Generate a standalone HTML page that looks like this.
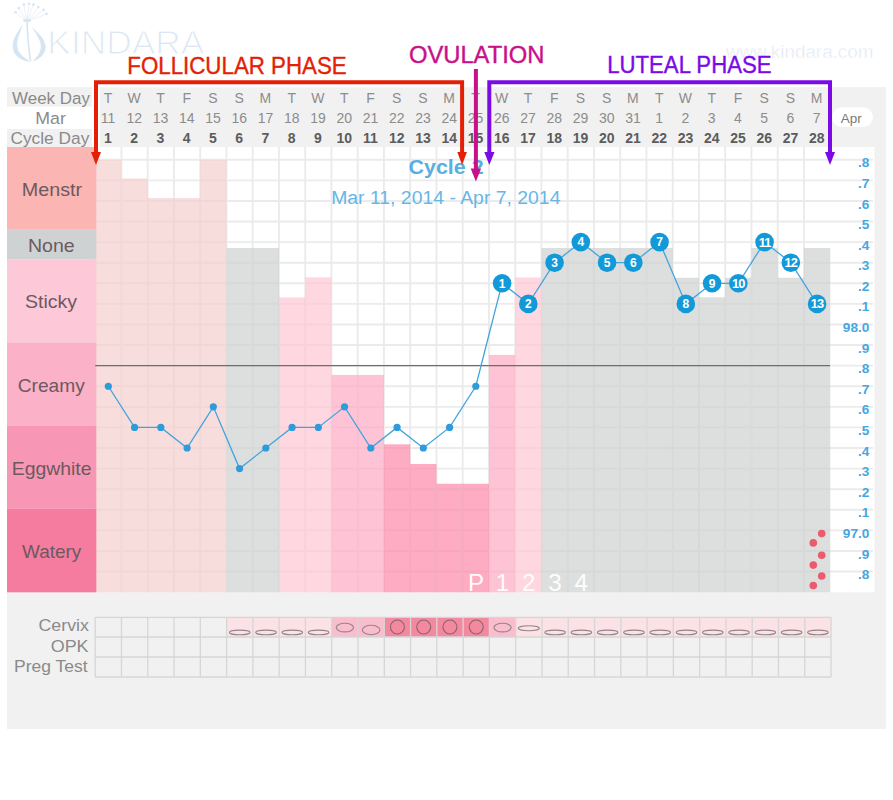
<!DOCTYPE html><html><head><meta charset="utf-8"><style>html,body{margin:0;padding:0;background:#fff;width:893px;height:800px;overflow:hidden}svg{display:block}text{font-family:"Liberation Sans",sans-serif}</style></head><body>
<svg width="893" height="800" viewBox="0 0 893 800">
<rect x="7" y="87.2" width="879" height="641.8" fill="#f1f1f1"/>
<rect x="7" y="106.7" width="85" height="22.2" fill="#ffffff"/>
<rect x="832" y="107.3" width="41" height="19.7" rx="9.8" fill="#ffffff"/>
<text x="840.80" y="123.4" font-size="13.62" font-weight="normal" fill="#7a7a7a" textLength="20.99" lengthAdjust="spacingAndGlyphs" >Apr</text>
<text x="12.05" y="103.6" font-size="15.94" font-weight="normal" fill="#8a8a8a" textLength="77.90" lengthAdjust="spacingAndGlyphs" >Week Day</text>
<text x="35.39" y="123.8" font-size="15.94" font-weight="normal" fill="#8a8a8a" textLength="30.50" lengthAdjust="spacingAndGlyphs" >Mar</text>
<text x="10.46" y="143.5" font-size="15.94" font-weight="normal" fill="#8a8a8a" textLength="78.83" lengthAdjust="spacingAndGlyphs" >Cycle Day</text>
<rect x="98" y="84" width="1.6" height="63" fill="#fff"/>
<rect x="92" y="87" width="3" height="60" fill="#fff"/>
<text x="107.92" y="103.2" font-size="14" fill="#8c8c8c" text-anchor="middle">T</text>
<text x="107.92" y="123.3" font-size="14" fill="#8c8c8c" text-anchor="middle">11</text>
<text x="107.92" y="142.7" font-size="14" font-weight="bold" fill="#5c5c5c" text-anchor="middle">1</text>
<text x="134.17" y="103.2" font-size="14" fill="#8c8c8c" text-anchor="middle">W</text>
<text x="134.17" y="123.3" font-size="14" fill="#8c8c8c" text-anchor="middle">12</text>
<text x="134.17" y="142.7" font-size="14" font-weight="bold" fill="#5c5c5c" text-anchor="middle">2</text>
<text x="160.42" y="103.2" font-size="14" fill="#8c8c8c" text-anchor="middle">T</text>
<text x="160.42" y="123.3" font-size="14" fill="#8c8c8c" text-anchor="middle">13</text>
<text x="160.42" y="142.7" font-size="14" font-weight="bold" fill="#5c5c5c" text-anchor="middle">3</text>
<text x="186.67" y="103.2" font-size="14" fill="#8c8c8c" text-anchor="middle">F</text>
<text x="186.67" y="123.3" font-size="14" fill="#8c8c8c" text-anchor="middle">14</text>
<text x="186.67" y="142.7" font-size="14" font-weight="bold" fill="#5c5c5c" text-anchor="middle">4</text>
<text x="212.92" y="103.2" font-size="14" fill="#8c8c8c" text-anchor="middle">S</text>
<text x="212.92" y="123.3" font-size="14" fill="#8c8c8c" text-anchor="middle">15</text>
<text x="212.92" y="142.7" font-size="14" font-weight="bold" fill="#5c5c5c" text-anchor="middle">5</text>
<text x="239.17" y="103.2" font-size="14" fill="#8c8c8c" text-anchor="middle">S</text>
<text x="239.17" y="123.3" font-size="14" fill="#8c8c8c" text-anchor="middle">16</text>
<text x="239.17" y="142.7" font-size="14" font-weight="bold" fill="#5c5c5c" text-anchor="middle">6</text>
<text x="265.43" y="103.2" font-size="14" fill="#8c8c8c" text-anchor="middle">M</text>
<text x="265.43" y="123.3" font-size="14" fill="#8c8c8c" text-anchor="middle">17</text>
<text x="265.43" y="142.7" font-size="14" font-weight="bold" fill="#5c5c5c" text-anchor="middle">7</text>
<text x="291.68" y="103.2" font-size="14" fill="#8c8c8c" text-anchor="middle">T</text>
<text x="291.68" y="123.3" font-size="14" fill="#8c8c8c" text-anchor="middle">18</text>
<text x="291.68" y="142.7" font-size="14" font-weight="bold" fill="#5c5c5c" text-anchor="middle">8</text>
<text x="317.93" y="103.2" font-size="14" fill="#8c8c8c" text-anchor="middle">W</text>
<text x="317.93" y="123.3" font-size="14" fill="#8c8c8c" text-anchor="middle">19</text>
<text x="317.93" y="142.7" font-size="14" font-weight="bold" fill="#5c5c5c" text-anchor="middle">9</text>
<text x="344.18" y="103.2" font-size="14" fill="#8c8c8c" text-anchor="middle">T</text>
<text x="344.18" y="123.3" font-size="14" fill="#8c8c8c" text-anchor="middle">20</text>
<text x="344.18" y="142.7" font-size="14" font-weight="bold" fill="#5c5c5c" text-anchor="middle">10</text>
<text x="370.43" y="103.2" font-size="14" fill="#8c8c8c" text-anchor="middle">F</text>
<text x="370.43" y="123.3" font-size="14" fill="#8c8c8c" text-anchor="middle">21</text>
<text x="370.43" y="142.7" font-size="14" font-weight="bold" fill="#5c5c5c" text-anchor="middle">11</text>
<text x="396.68" y="103.2" font-size="14" fill="#8c8c8c" text-anchor="middle">S</text>
<text x="396.68" y="123.3" font-size="14" fill="#8c8c8c" text-anchor="middle">22</text>
<text x="396.68" y="142.7" font-size="14" font-weight="bold" fill="#5c5c5c" text-anchor="middle">12</text>
<text x="422.93" y="103.2" font-size="14" fill="#8c8c8c" text-anchor="middle">S</text>
<text x="422.93" y="123.3" font-size="14" fill="#8c8c8c" text-anchor="middle">23</text>
<text x="422.93" y="142.7" font-size="14" font-weight="bold" fill="#5c5c5c" text-anchor="middle">13</text>
<text x="449.18" y="103.2" font-size="14" fill="#8c8c8c" text-anchor="middle">M</text>
<text x="449.18" y="123.3" font-size="14" fill="#8c8c8c" text-anchor="middle">24</text>
<text x="449.18" y="142.7" font-size="14" font-weight="bold" fill="#5c5c5c" text-anchor="middle">14</text>
<text x="475.43" y="103.2" font-size="14" fill="#8c8c8c" text-anchor="middle">T</text>
<text x="475.43" y="123.3" font-size="14" fill="#8c8c8c" text-anchor="middle">25</text>
<text x="475.43" y="142.7" font-size="14" font-weight="bold" fill="#5c5c5c" text-anchor="middle">15</text>
<text x="501.68" y="103.2" font-size="14" fill="#8c8c8c" text-anchor="middle">W</text>
<text x="501.68" y="123.3" font-size="14" fill="#8c8c8c" text-anchor="middle">26</text>
<text x="501.68" y="142.7" font-size="14" font-weight="bold" fill="#5c5c5c" text-anchor="middle">16</text>
<text x="527.93" y="103.2" font-size="14" fill="#8c8c8c" text-anchor="middle">T</text>
<text x="527.93" y="123.3" font-size="14" fill="#8c8c8c" text-anchor="middle">27</text>
<text x="527.93" y="142.7" font-size="14" font-weight="bold" fill="#5c5c5c" text-anchor="middle">17</text>
<text x="554.18" y="103.2" font-size="14" fill="#8c8c8c" text-anchor="middle">F</text>
<text x="554.18" y="123.3" font-size="14" fill="#8c8c8c" text-anchor="middle">28</text>
<text x="554.18" y="142.7" font-size="14" font-weight="bold" fill="#5c5c5c" text-anchor="middle">18</text>
<text x="580.43" y="103.2" font-size="14" fill="#8c8c8c" text-anchor="middle">S</text>
<text x="580.43" y="123.3" font-size="14" fill="#8c8c8c" text-anchor="middle">29</text>
<text x="580.43" y="142.7" font-size="14" font-weight="bold" fill="#5c5c5c" text-anchor="middle">19</text>
<text x="606.68" y="103.2" font-size="14" fill="#8c8c8c" text-anchor="middle">S</text>
<text x="606.68" y="123.3" font-size="14" fill="#8c8c8c" text-anchor="middle">30</text>
<text x="606.68" y="142.7" font-size="14" font-weight="bold" fill="#5c5c5c" text-anchor="middle">20</text>
<text x="632.93" y="103.2" font-size="14" fill="#8c8c8c" text-anchor="middle">M</text>
<text x="632.93" y="123.3" font-size="14" fill="#8c8c8c" text-anchor="middle">31</text>
<text x="632.93" y="142.7" font-size="14" font-weight="bold" fill="#5c5c5c" text-anchor="middle">21</text>
<text x="659.18" y="103.2" font-size="14" fill="#8c8c8c" text-anchor="middle">T</text>
<text x="659.18" y="123.3" font-size="14" fill="#8c8c8c" text-anchor="middle">1</text>
<text x="659.18" y="142.7" font-size="14" font-weight="bold" fill="#5c5c5c" text-anchor="middle">22</text>
<text x="685.43" y="103.2" font-size="14" fill="#8c8c8c" text-anchor="middle">W</text>
<text x="685.43" y="123.3" font-size="14" fill="#8c8c8c" text-anchor="middle">2</text>
<text x="685.43" y="142.7" font-size="14" font-weight="bold" fill="#5c5c5c" text-anchor="middle">23</text>
<text x="711.68" y="103.2" font-size="14" fill="#8c8c8c" text-anchor="middle">T</text>
<text x="711.68" y="123.3" font-size="14" fill="#8c8c8c" text-anchor="middle">3</text>
<text x="711.68" y="142.7" font-size="14" font-weight="bold" fill="#5c5c5c" text-anchor="middle">24</text>
<text x="737.93" y="103.2" font-size="14" fill="#8c8c8c" text-anchor="middle">F</text>
<text x="737.93" y="123.3" font-size="14" fill="#8c8c8c" text-anchor="middle">4</text>
<text x="737.93" y="142.7" font-size="14" font-weight="bold" fill="#5c5c5c" text-anchor="middle">25</text>
<text x="764.18" y="103.2" font-size="14" fill="#8c8c8c" text-anchor="middle">S</text>
<text x="764.18" y="123.3" font-size="14" fill="#8c8c8c" text-anchor="middle">5</text>
<text x="764.18" y="142.7" font-size="14" font-weight="bold" fill="#5c5c5c" text-anchor="middle">26</text>
<text x="790.43" y="103.2" font-size="14" fill="#8c8c8c" text-anchor="middle">S</text>
<text x="790.43" y="123.3" font-size="14" fill="#8c8c8c" text-anchor="middle">6</text>
<text x="790.43" y="142.7" font-size="14" font-weight="bold" fill="#5c5c5c" text-anchor="middle">27</text>
<text x="816.68" y="103.2" font-size="14" fill="#8c8c8c" text-anchor="middle">M</text>
<text x="816.68" y="123.3" font-size="14" fill="#8c8c8c" text-anchor="middle">7</text>
<text x="816.68" y="142.7" font-size="14" font-weight="bold" fill="#5c5c5c" text-anchor="middle">28</text>
<rect x="95.2" y="147.0" width="735.00" height="445.30" fill="#ffffff"/>
<rect x="830" y="147.0" width="44.5" height="445.30" fill="#ffffff"/>
<g opacity="0.075">
<line x1="95.2" y1="159.75" x2="873" y2="159.75" stroke="#000" stroke-width="1.9"/>
<line x1="95.2" y1="180.34" x2="873" y2="180.34" stroke="#000" stroke-width="1.9"/>
<line x1="95.2" y1="200.93" x2="873" y2="200.93" stroke="#000" stroke-width="1.9"/>
<line x1="95.2" y1="221.52" x2="873" y2="221.52" stroke="#000" stroke-width="1.9"/>
<line x1="95.2" y1="242.11" x2="873" y2="242.11" stroke="#000" stroke-width="1.9"/>
<line x1="95.2" y1="262.70" x2="873" y2="262.70" stroke="#000" stroke-width="1.9"/>
<line x1="95.2" y1="283.29" x2="873" y2="283.29" stroke="#000" stroke-width="1.9"/>
<line x1="95.2" y1="303.88" x2="873" y2="303.88" stroke="#000" stroke-width="1.9"/>
<line x1="95.2" y1="324.47" x2="873" y2="324.47" stroke="#000" stroke-width="1.9"/>
<line x1="95.2" y1="345.06" x2="873" y2="345.06" stroke="#000" stroke-width="1.9"/>
<line x1="95.2" y1="365.65" x2="873" y2="365.65" stroke="#000" stroke-width="1.9"/>
<line x1="95.2" y1="386.24" x2="873" y2="386.24" stroke="#000" stroke-width="1.9"/>
<line x1="95.2" y1="406.83" x2="873" y2="406.83" stroke="#000" stroke-width="1.9"/>
<line x1="95.2" y1="427.42" x2="873" y2="427.42" stroke="#000" stroke-width="1.9"/>
<line x1="95.2" y1="448.01" x2="873" y2="448.01" stroke="#000" stroke-width="1.9"/>
<line x1="95.2" y1="468.60" x2="873" y2="468.60" stroke="#000" stroke-width="1.9"/>
<line x1="95.2" y1="489.19" x2="873" y2="489.19" stroke="#000" stroke-width="1.9"/>
<line x1="95.2" y1="509.78" x2="873" y2="509.78" stroke="#000" stroke-width="1.9"/>
<line x1="95.2" y1="530.37" x2="873" y2="530.37" stroke="#000" stroke-width="1.9"/>
<line x1="95.2" y1="550.96" x2="873" y2="550.96" stroke="#000" stroke-width="1.9"/>
<line x1="95.2" y1="571.55" x2="873" y2="571.55" stroke="#000" stroke-width="1.9"/>
<line x1="95.20" y1="147.0" x2="95.20" y2="592.3" stroke="#000" stroke-width="1.9"/>
<line x1="121.45" y1="147.0" x2="121.45" y2="592.3" stroke="#000" stroke-width="1.9"/>
<line x1="147.70" y1="147.0" x2="147.70" y2="592.3" stroke="#000" stroke-width="1.9"/>
<line x1="173.95" y1="147.0" x2="173.95" y2="592.3" stroke="#000" stroke-width="1.9"/>
<line x1="200.20" y1="147.0" x2="200.20" y2="592.3" stroke="#000" stroke-width="1.9"/>
<line x1="226.45" y1="147.0" x2="226.45" y2="592.3" stroke="#000" stroke-width="1.9"/>
<line x1="252.70" y1="147.0" x2="252.70" y2="592.3" stroke="#000" stroke-width="1.9"/>
<line x1="278.95" y1="147.0" x2="278.95" y2="592.3" stroke="#000" stroke-width="1.9"/>
<line x1="305.20" y1="147.0" x2="305.20" y2="592.3" stroke="#000" stroke-width="1.9"/>
<line x1="331.45" y1="147.0" x2="331.45" y2="592.3" stroke="#000" stroke-width="1.9"/>
<line x1="357.70" y1="147.0" x2="357.70" y2="592.3" stroke="#000" stroke-width="1.9"/>
<line x1="383.95" y1="147.0" x2="383.95" y2="592.3" stroke="#000" stroke-width="1.9"/>
<line x1="410.20" y1="147.0" x2="410.20" y2="592.3" stroke="#000" stroke-width="1.9"/>
<line x1="436.45" y1="147.0" x2="436.45" y2="592.3" stroke="#000" stroke-width="1.9"/>
<line x1="462.70" y1="147.0" x2="462.70" y2="592.3" stroke="#000" stroke-width="1.9"/>
<line x1="488.95" y1="147.0" x2="488.95" y2="592.3" stroke="#000" stroke-width="1.9"/>
<line x1="515.20" y1="147.0" x2="515.20" y2="592.3" stroke="#000" stroke-width="1.9"/>
<line x1="541.45" y1="147.0" x2="541.45" y2="592.3" stroke="#000" stroke-width="1.9"/>
<line x1="567.70" y1="147.0" x2="567.70" y2="592.3" stroke="#000" stroke-width="1.9"/>
<line x1="593.95" y1="147.0" x2="593.95" y2="592.3" stroke="#000" stroke-width="1.9"/>
<line x1="620.20" y1="147.0" x2="620.20" y2="592.3" stroke="#000" stroke-width="1.9"/>
<line x1="646.45" y1="147.0" x2="646.45" y2="592.3" stroke="#000" stroke-width="1.9"/>
<line x1="672.70" y1="147.0" x2="672.70" y2="592.3" stroke="#000" stroke-width="1.9"/>
<line x1="698.95" y1="147.0" x2="698.95" y2="592.3" stroke="#000" stroke-width="1.9"/>
<line x1="725.20" y1="147.0" x2="725.20" y2="592.3" stroke="#000" stroke-width="1.9"/>
<line x1="751.45" y1="147.0" x2="751.45" y2="592.3" stroke="#000" stroke-width="1.9"/>
<line x1="777.70" y1="147.0" x2="777.70" y2="592.3" stroke="#000" stroke-width="1.9"/>
<line x1="803.95" y1="147.0" x2="803.95" y2="592.3" stroke="#000" stroke-width="1.9"/>
</g>
<rect x="95.20" y="159.75" width="26.30" height="432.55" fill="#f5cdcd" fill-opacity="0.68"/>
<rect x="121.45" y="178.50" width="26.30" height="413.80" fill="#f5cdcd" fill-opacity="0.68"/>
<rect x="147.70" y="198.10" width="26.30" height="394.20" fill="#f5cdcd" fill-opacity="0.68"/>
<rect x="173.95" y="198.10" width="26.30" height="394.20" fill="#f5cdcd" fill-opacity="0.68"/>
<rect x="200.20" y="159.75" width="26.30" height="432.55" fill="#f5cdcd" fill-opacity="0.68"/>
<rect x="226.45" y="248.00" width="26.30" height="344.30" fill="#ccd0ce" fill-opacity="0.68"/>
<rect x="252.70" y="248.00" width="26.30" height="344.30" fill="#ccd0ce" fill-opacity="0.68"/>
<rect x="278.95" y="297.50" width="26.30" height="294.80" fill="#fec4d3" fill-opacity="0.68"/>
<rect x="305.20" y="277.30" width="26.30" height="315.00" fill="#fec4d3" fill-opacity="0.68"/>
<rect x="331.45" y="374.90" width="26.30" height="217.40" fill="#fea8c1" fill-opacity="0.68"/>
<rect x="357.70" y="374.90" width="26.30" height="217.40" fill="#fea8c1" fill-opacity="0.68"/>
<rect x="383.95" y="444.30" width="26.30" height="148.00" fill="#fe85a7" fill-opacity="0.68"/>
<rect x="410.20" y="464.00" width="26.30" height="128.30" fill="#fe85a7" fill-opacity="0.68"/>
<rect x="436.45" y="483.75" width="26.30" height="108.55" fill="#fe85a7" fill-opacity="0.68"/>
<rect x="462.70" y="483.75" width="26.30" height="108.55" fill="#fe85a7" fill-opacity="0.68"/>
<rect x="488.95" y="354.90" width="26.30" height="237.40" fill="#fea8c1" fill-opacity="0.68"/>
<rect x="515.20" y="277.50" width="26.30" height="314.80" fill="#fec4d3" fill-opacity="0.68"/>
<rect x="541.45" y="248.00" width="26.30" height="344.30" fill="#ccd0ce" fill-opacity="0.68"/>
<rect x="567.70" y="248.00" width="26.30" height="344.30" fill="#ccd0ce" fill-opacity="0.68"/>
<rect x="593.95" y="248.00" width="26.30" height="344.30" fill="#ccd0ce" fill-opacity="0.68"/>
<rect x="620.20" y="248.00" width="26.30" height="344.30" fill="#ccd0ce" fill-opacity="0.68"/>
<rect x="646.45" y="248.00" width="26.30" height="344.30" fill="#ccd0ce" fill-opacity="0.68"/>
<rect x="672.70" y="277.80" width="26.30" height="314.50" fill="#ccd0ce" fill-opacity="0.68"/>
<rect x="698.95" y="297.30" width="26.30" height="295.00" fill="#ccd0ce" fill-opacity="0.68"/>
<rect x="725.20" y="277.80" width="26.30" height="314.50" fill="#ccd0ce" fill-opacity="0.68"/>
<rect x="751.45" y="248.00" width="26.30" height="344.30" fill="#ccd0ce" fill-opacity="0.68"/>
<rect x="777.70" y="277.80" width="26.30" height="314.50" fill="#ccd0ce" fill-opacity="0.68"/>
<rect x="803.95" y="248.00" width="26.30" height="344.30" fill="#ccd0ce" fill-opacity="0.68"/>
<rect x="7" y="147" width="89.3" height="82.00" fill="#fbb5b3"/>
<text x="21.87" y="195.9" font-size="19.13" font-weight="normal" fill="#6b5a5f" textLength="60.20" lengthAdjust="spacingAndGlyphs" >Menstr</text>
<rect x="7" y="229" width="89.3" height="30.50" fill="#cfd2d3"/>
<text x="27.98" y="251.6" font-size="19.13" font-weight="normal" fill="#6b5a5f" textLength="46.77" lengthAdjust="spacingAndGlyphs" >None</text>
<rect x="7" y="259.5" width="89.3" height="83.00" fill="#fdc8d7"/>
<text x="24.98" y="307.9" font-size="19.13" font-weight="normal" fill="#6b5a5f" textLength="52.04" lengthAdjust="spacingAndGlyphs" >Sticky</text>
<rect x="7" y="342.5" width="89.3" height="83.25" fill="#fbb1c8"/>
<text x="17.75" y="391.6" font-size="19.13" font-weight="normal" fill="#6b5a5f" textLength="67.00" lengthAdjust="spacingAndGlyphs" >Creamy</text>
<rect x="7" y="425.75" width="89.3" height="83.00" fill="#f897b5"/>
<text x="11.69" y="475.0" font-size="19.13" font-weight="normal" fill="#6b5a5f" textLength="79.81" lengthAdjust="spacingAndGlyphs" >Eggwhite</text>
<rect x="7" y="508.75" width="89.3" height="83.55" fill="#f67c9f"/>
<text x="22.00" y="557.5" font-size="19.13" font-weight="normal" fill="#6b5a5f" textLength="59.36" lengthAdjust="spacingAndGlyphs" >Watery</text>
<text x="869.3" y="167.35" font-size="13.6" font-weight="bold" fill="#48a6de" text-anchor="end">.8</text>
<text x="869.3" y="187.94" font-size="13.6" font-weight="bold" fill="#48a6de" text-anchor="end">.7</text>
<text x="869.3" y="208.53" font-size="13.6" font-weight="bold" fill="#48a6de" text-anchor="end">.6</text>
<text x="869.3" y="229.12" font-size="13.6" font-weight="bold" fill="#48a6de" text-anchor="end">.5</text>
<text x="869.3" y="249.71" font-size="13.6" font-weight="bold" fill="#48a6de" text-anchor="end">.4</text>
<text x="869.3" y="270.30" font-size="13.6" font-weight="bold" fill="#48a6de" text-anchor="end">.3</text>
<text x="869.3" y="290.89" font-size="13.6" font-weight="bold" fill="#48a6de" text-anchor="end">.2</text>
<text x="869.3" y="311.48" font-size="13.6" font-weight="bold" fill="#48a6de" text-anchor="end">.1</text>
<text x="869.3" y="332.07" font-size="13.6" font-weight="bold" fill="#48a6de" text-anchor="end">98.0</text>
<text x="869.3" y="352.66" font-size="13.6" font-weight="bold" fill="#48a6de" text-anchor="end">.9</text>
<text x="869.3" y="373.25" font-size="13.6" font-weight="bold" fill="#48a6de" text-anchor="end">.8</text>
<text x="869.3" y="393.84" font-size="13.6" font-weight="bold" fill="#48a6de" text-anchor="end">.7</text>
<text x="869.3" y="414.43" font-size="13.6" font-weight="bold" fill="#48a6de" text-anchor="end">.6</text>
<text x="869.3" y="435.02" font-size="13.6" font-weight="bold" fill="#48a6de" text-anchor="end">.5</text>
<text x="869.3" y="455.61" font-size="13.6" font-weight="bold" fill="#48a6de" text-anchor="end">.4</text>
<text x="869.3" y="476.20" font-size="13.6" font-weight="bold" fill="#48a6de" text-anchor="end">.3</text>
<text x="869.3" y="496.79" font-size="13.6" font-weight="bold" fill="#48a6de" text-anchor="end">.2</text>
<text x="869.3" y="517.38" font-size="13.6" font-weight="bold" fill="#48a6de" text-anchor="end">.1</text>
<text x="869.3" y="537.97" font-size="13.6" font-weight="bold" fill="#48a6de" text-anchor="end">97.0</text>
<text x="869.3" y="558.56" font-size="13.6" font-weight="bold" fill="#48a6de" text-anchor="end">.9</text>
<text x="869.3" y="579.15" font-size="13.6" font-weight="bold" fill="#48a6de" text-anchor="end">.8</text>
<line x1="95.2" y1="365.65" x2="830" y2="365.65" stroke="#6e6e6e" stroke-width="1.2"/>
<polyline points="108.33,386.24 134.57,427.42 160.82,427.42 187.07,448.01 213.32,406.83 239.57,468.60 265.82,448.01 292.07,427.42 318.32,427.42 344.57,406.83 370.82,448.01 397.07,427.42 423.32,448.01 449.57,427.42 475.82,386.24 502.07,283.29 528.33,303.88 554.58,262.70 580.83,242.11 607.08,262.70 633.33,262.70 659.58,242.11 685.83,303.88 712.08,283.29 738.33,283.29 764.58,242.11 790.83,262.70 817.08,303.88" fill="none" stroke="#42a4de" stroke-width="1.3"/>
<circle cx="108.33" cy="386.24" r="3.6" fill="#2f9bdb"/>
<circle cx="134.57" cy="427.42" r="3.6" fill="#2f9bdb"/>
<circle cx="160.82" cy="427.42" r="3.6" fill="#2f9bdb"/>
<circle cx="187.07" cy="448.01" r="3.6" fill="#2f9bdb"/>
<circle cx="213.32" cy="406.83" r="3.6" fill="#2f9bdb"/>
<circle cx="239.57" cy="468.60" r="3.6" fill="#2f9bdb"/>
<circle cx="265.82" cy="448.01" r="3.6" fill="#2f9bdb"/>
<circle cx="292.07" cy="427.42" r="3.6" fill="#2f9bdb"/>
<circle cx="318.32" cy="427.42" r="3.6" fill="#2f9bdb"/>
<circle cx="344.57" cy="406.83" r="3.6" fill="#2f9bdb"/>
<circle cx="370.82" cy="448.01" r="3.6" fill="#2f9bdb"/>
<circle cx="397.07" cy="427.42" r="3.6" fill="#2f9bdb"/>
<circle cx="423.32" cy="448.01" r="3.6" fill="#2f9bdb"/>
<circle cx="449.57" cy="427.42" r="3.6" fill="#2f9bdb"/>
<circle cx="475.82" cy="386.24" r="3.6" fill="#2f9bdb"/>
<circle cx="502.07" cy="283.29" r="9.3" fill="#129ad8"/>
<text x="502.07" y="287.59" font-size="12" font-weight="bold" fill="#ffffff" text-anchor="middle" letter-spacing="0">1</text>
<circle cx="528.33" cy="303.88" r="9.3" fill="#129ad8"/>
<text x="528.33" y="308.18" font-size="12" font-weight="bold" fill="#ffffff" text-anchor="middle" letter-spacing="0">2</text>
<circle cx="554.58" cy="262.70" r="9.3" fill="#129ad8"/>
<text x="554.58" y="267.00" font-size="12" font-weight="bold" fill="#ffffff" text-anchor="middle" letter-spacing="0">3</text>
<circle cx="580.83" cy="242.11" r="9.3" fill="#129ad8"/>
<text x="580.83" y="246.41" font-size="12" font-weight="bold" fill="#ffffff" text-anchor="middle" letter-spacing="0">4</text>
<circle cx="607.08" cy="262.70" r="9.3" fill="#129ad8"/>
<text x="607.08" y="267.00" font-size="12" font-weight="bold" fill="#ffffff" text-anchor="middle" letter-spacing="0">5</text>
<circle cx="633.33" cy="262.70" r="9.3" fill="#129ad8"/>
<text x="633.33" y="267.00" font-size="12" font-weight="bold" fill="#ffffff" text-anchor="middle" letter-spacing="0">6</text>
<circle cx="659.58" cy="242.11" r="9.3" fill="#129ad8"/>
<text x="659.58" y="246.41" font-size="12" font-weight="bold" fill="#ffffff" text-anchor="middle" letter-spacing="0">7</text>
<circle cx="685.83" cy="303.88" r="9.3" fill="#129ad8"/>
<text x="685.83" y="308.18" font-size="12" font-weight="bold" fill="#ffffff" text-anchor="middle" letter-spacing="0">8</text>
<circle cx="712.08" cy="283.29" r="9.3" fill="#129ad8"/>
<text x="712.08" y="287.59" font-size="12" font-weight="bold" fill="#ffffff" text-anchor="middle" letter-spacing="0">9</text>
<circle cx="738.33" cy="283.29" r="9.3" fill="#129ad8"/>
<text x="738.33" y="287.89" font-size="12.8" font-weight="bold" fill="#ffffff" text-anchor="middle" letter-spacing="-0.9">10</text>
<circle cx="764.58" cy="242.11" r="9.3" fill="#129ad8"/>
<text x="764.58" y="246.71" font-size="12.8" font-weight="bold" fill="#ffffff" text-anchor="middle" letter-spacing="-0.9">11</text>
<circle cx="790.83" cy="262.70" r="9.3" fill="#129ad8"/>
<text x="790.83" y="267.30" font-size="12.8" font-weight="bold" fill="#ffffff" text-anchor="middle" letter-spacing="-0.9">12</text>
<circle cx="817.08" cy="303.88" r="9.3" fill="#129ad8"/>
<text x="817.08" y="308.48" font-size="12.8" font-weight="bold" fill="#ffffff" text-anchor="middle" letter-spacing="-0.9">13</text>
<text x="476.12" y="591" font-size="24.2" fill="#ffffff" fill-opacity="0.95" text-anchor="middle">P</text>
<text x="502.38" y="591" font-size="24.2" fill="#ffffff" fill-opacity="0.95" text-anchor="middle">1</text>
<text x="528.62" y="591" font-size="24.2" fill="#ffffff" fill-opacity="0.95" text-anchor="middle">2</text>
<text x="554.88" y="591" font-size="24.2" fill="#ffffff" fill-opacity="0.95" text-anchor="middle">3</text>
<text x="581.12" y="591" font-size="24.2" fill="#ffffff" fill-opacity="0.95" text-anchor="middle">4</text>
<circle cx="821.7" cy="533.6" r="3.8" fill="#ec5a6e"/>
<circle cx="813.3" cy="542.9" r="3.8" fill="#ec5a6e"/>
<circle cx="821.7" cy="555.2" r="3.8" fill="#ec5a6e"/>
<circle cx="813.3" cy="565.1" r="3.8" fill="#ec5a6e"/>
<circle cx="821.7" cy="576" r="3.8" fill="#ec5a6e"/>
<circle cx="813.3" cy="585.5" r="3.8" fill="#ec5a6e"/>
<text x="408.62" y="173.9" font-size="19.86" font-weight="bold" fill="#58afe2" textLength="74.93" lengthAdjust="spacingAndGlyphs" >Cycle 2</text>
<text x="331.18" y="203.9" font-size="18.99" font-weight="normal" fill="#66b6e6" textLength="229.29" lengthAdjust="spacingAndGlyphs" >Mar 11, 2014 - Apr 7, 2014</text>
<text x="38.51" y="631.3" font-size="16.38" font-weight="normal" fill="#8a8a8a" textLength="50.38" lengthAdjust="spacingAndGlyphs" >Cervix</text>
<text x="50.70" y="652.3" font-size="16.38" font-weight="normal" fill="#8a8a8a" textLength="37.91" lengthAdjust="spacingAndGlyphs" >OPK</text>
<text x="14.03" y="671.9" font-size="16.38" font-weight="normal" fill="#8a8a8a" textLength="73.57" lengthAdjust="spacingAndGlyphs" >Preg Test</text>
<rect x="226.60" y="617.3" width="26.28" height="19.7" fill="#fae2e6"/>
<rect x="252.88" y="617.3" width="26.28" height="19.7" fill="#fae2e6"/>
<rect x="279.16" y="617.3" width="26.28" height="19.7" fill="#fae2e6"/>
<rect x="305.44" y="617.3" width="26.28" height="19.7" fill="#fae2e6"/>
<rect x="331.72" y="617.3" width="26.28" height="19.7" fill="#f9bdce"/>
<rect x="358.00" y="617.3" width="26.28" height="19.7" fill="#f9bdce"/>
<rect x="384.28" y="617.3" width="26.28" height="19.7" fill="#f4889f"/>
<rect x="410.56" y="617.3" width="26.28" height="19.7" fill="#f4889f"/>
<rect x="436.84" y="617.3" width="26.28" height="19.7" fill="#f4889f"/>
<rect x="463.12" y="617.3" width="26.28" height="19.7" fill="#f4889f"/>
<rect x="489.40" y="617.3" width="26.28" height="19.7" fill="#f9bdce"/>
<rect x="515.68" y="617.3" width="26.28" height="19.7" fill="#fae2e6"/>
<rect x="541.96" y="617.3" width="26.28" height="19.7" fill="#fae2e6"/>
<rect x="568.24" y="617.3" width="26.28" height="19.7" fill="#fae2e6"/>
<rect x="594.52" y="617.3" width="26.28" height="19.7" fill="#fae2e6"/>
<rect x="620.80" y="617.3" width="26.28" height="19.7" fill="#fae2e6"/>
<rect x="647.08" y="617.3" width="26.28" height="19.7" fill="#fae2e6"/>
<rect x="673.36" y="617.3" width="26.28" height="19.7" fill="#fae2e6"/>
<rect x="699.64" y="617.3" width="26.28" height="19.7" fill="#fae2e6"/>
<rect x="725.92" y="617.3" width="26.28" height="19.7" fill="#fae2e6"/>
<rect x="752.20" y="617.3" width="26.28" height="19.7" fill="#fae2e6"/>
<rect x="778.48" y="617.3" width="26.28" height="19.7" fill="#fae2e6"/>
<rect x="804.76" y="617.3" width="26.28" height="19.7" fill="#fae2e6"/>
<line x1="95.2" y1="617.3" x2="831.04" y2="617.3" stroke="#d6d6d6" stroke-width="1.3"/>
<line x1="95.2" y1="637" x2="831.04" y2="637" stroke="#d6d6d6" stroke-width="1.3"/>
<line x1="95.2" y1="657" x2="831.04" y2="657" stroke="#d6d6d6" stroke-width="1.3"/>
<line x1="95.2" y1="677" x2="831.04" y2="677" stroke="#d6d6d6" stroke-width="1.3"/>
<line x1="95.20" y1="617.3" x2="95.20" y2="677" stroke="#d6d6d6" stroke-width="1.3"/>
<line x1="121.48" y1="617.3" x2="121.48" y2="677" stroke="#d6d6d6" stroke-width="1.3"/>
<line x1="147.76" y1="617.3" x2="147.76" y2="677" stroke="#d6d6d6" stroke-width="1.3"/>
<line x1="174.04" y1="617.3" x2="174.04" y2="677" stroke="#d6d6d6" stroke-width="1.3"/>
<line x1="200.32" y1="617.3" x2="200.32" y2="677" stroke="#d6d6d6" stroke-width="1.3"/>
<line x1="226.60" y1="617.3" x2="226.60" y2="677" stroke="#d6d6d6" stroke-width="1.3"/>
<line x1="252.88" y1="617.3" x2="252.88" y2="677" stroke="#d6d6d6" stroke-width="1.3"/>
<line x1="279.16" y1="617.3" x2="279.16" y2="677" stroke="#d6d6d6" stroke-width="1.3"/>
<line x1="305.44" y1="617.3" x2="305.44" y2="677" stroke="#d6d6d6" stroke-width="1.3"/>
<line x1="331.72" y1="617.3" x2="331.72" y2="677" stroke="#d6d6d6" stroke-width="1.3"/>
<line x1="358.00" y1="617.3" x2="358.00" y2="677" stroke="#d6d6d6" stroke-width="1.3"/>
<line x1="384.28" y1="617.3" x2="384.28" y2="677" stroke="#d6d6d6" stroke-width="1.3"/>
<line x1="410.56" y1="617.3" x2="410.56" y2="677" stroke="#d6d6d6" stroke-width="1.3"/>
<line x1="436.84" y1="617.3" x2="436.84" y2="677" stroke="#d6d6d6" stroke-width="1.3"/>
<line x1="463.12" y1="617.3" x2="463.12" y2="677" stroke="#d6d6d6" stroke-width="1.3"/>
<line x1="489.40" y1="617.3" x2="489.40" y2="677" stroke="#d6d6d6" stroke-width="1.3"/>
<line x1="515.68" y1="617.3" x2="515.68" y2="677" stroke="#d6d6d6" stroke-width="1.3"/>
<line x1="541.96" y1="617.3" x2="541.96" y2="677" stroke="#d6d6d6" stroke-width="1.3"/>
<line x1="568.24" y1="617.3" x2="568.24" y2="677" stroke="#d6d6d6" stroke-width="1.3"/>
<line x1="594.52" y1="617.3" x2="594.52" y2="677" stroke="#d6d6d6" stroke-width="1.3"/>
<line x1="620.80" y1="617.3" x2="620.80" y2="677" stroke="#d6d6d6" stroke-width="1.3"/>
<line x1="647.08" y1="617.3" x2="647.08" y2="677" stroke="#d6d6d6" stroke-width="1.3"/>
<line x1="673.36" y1="617.3" x2="673.36" y2="677" stroke="#d6d6d6" stroke-width="1.3"/>
<line x1="699.64" y1="617.3" x2="699.64" y2="677" stroke="#d6d6d6" stroke-width="1.3"/>
<line x1="725.92" y1="617.3" x2="725.92" y2="677" stroke="#d6d6d6" stroke-width="1.3"/>
<line x1="752.20" y1="617.3" x2="752.20" y2="677" stroke="#d6d6d6" stroke-width="1.3"/>
<line x1="778.48" y1="617.3" x2="778.48" y2="677" stroke="#d6d6d6" stroke-width="1.3"/>
<line x1="804.76" y1="617.3" x2="804.76" y2="677" stroke="#d6d6d6" stroke-width="1.3"/>
<line x1="831.04" y1="617.3" x2="831.04" y2="677" stroke="#d6d6d6" stroke-width="1.3"/>
<ellipse cx="239.74" cy="632.4" rx="10.3" ry="2.3" fill="none" stroke="#958589" stroke-width="1.1"/>
<ellipse cx="266.02" cy="632.4" rx="10.3" ry="2.3" fill="none" stroke="#958589" stroke-width="1.1"/>
<ellipse cx="292.30" cy="632.4" rx="10.3" ry="2.3" fill="none" stroke="#958589" stroke-width="1.1"/>
<ellipse cx="318.58" cy="632.4" rx="10.3" ry="2.3" fill="none" stroke="#958589" stroke-width="1.1"/>
<ellipse cx="344.86" cy="627.6" rx="8.6" ry="4.3" fill="none" stroke="#958589" stroke-width="1.1"/>
<ellipse cx="371.14" cy="630" rx="8.8" ry="4.7" fill="none" stroke="#958589" stroke-width="1.1"/>
<circle cx="397.42" cy="627" r="7" fill="none" stroke="#86666f" stroke-width="1.1"/>
<circle cx="423.70" cy="627" r="7" fill="none" stroke="#86666f" stroke-width="1.1"/>
<circle cx="449.98" cy="627" r="7" fill="none" stroke="#86666f" stroke-width="1.1"/>
<circle cx="476.26" cy="627" r="7" fill="none" stroke="#86666f" stroke-width="1.1"/>
<ellipse cx="502.54" cy="627.6" rx="8.6" ry="4.3" fill="none" stroke="#958589" stroke-width="1.1"/>
<ellipse cx="528.82" cy="628.2" rx="10.6" ry="2.5" fill="none" stroke="#958589" stroke-width="1.1"/>
<ellipse cx="555.10" cy="632.4" rx="10.3" ry="2.3" fill="none" stroke="#958589" stroke-width="1.1"/>
<ellipse cx="581.38" cy="632.4" rx="10.3" ry="2.3" fill="none" stroke="#958589" stroke-width="1.1"/>
<ellipse cx="607.66" cy="632.4" rx="10.3" ry="2.3" fill="none" stroke="#958589" stroke-width="1.1"/>
<ellipse cx="633.94" cy="632.4" rx="10.3" ry="2.3" fill="none" stroke="#958589" stroke-width="1.1"/>
<ellipse cx="660.22" cy="632.4" rx="10.3" ry="2.3" fill="none" stroke="#958589" stroke-width="1.1"/>
<ellipse cx="686.50" cy="632.4" rx="10.3" ry="2.3" fill="none" stroke="#958589" stroke-width="1.1"/>
<ellipse cx="712.78" cy="632.4" rx="10.3" ry="2.3" fill="none" stroke="#958589" stroke-width="1.1"/>
<ellipse cx="739.06" cy="632.4" rx="10.3" ry="2.3" fill="none" stroke="#958589" stroke-width="1.1"/>
<ellipse cx="765.34" cy="632.4" rx="10.3" ry="2.3" fill="none" stroke="#958589" stroke-width="1.1"/>
<ellipse cx="791.62" cy="632.4" rx="10.3" ry="2.3" fill="none" stroke="#958589" stroke-width="1.1"/>
<ellipse cx="817.90" cy="632.4" rx="10.3" ry="2.3" fill="none" stroke="#958589" stroke-width="1.1"/>
<text x="725.90" y="57.7" font-size="17.83" font-weight="normal" fill="#dde6f3" textLength="147.51" lengthAdjust="spacingAndGlyphs" stroke="#fff" stroke-width="0.5">www.kindara.com</text>
<text x="127.27" y="73.5" font-size="24.35" font-weight="normal" fill="#e41f05" textLength="219.44" lengthAdjust="spacingAndGlyphs" stroke="#e41f05" stroke-width="0.4">FOLLICULAR PHASE</text>
<text x="408.92" y="63.2" font-size="24.20" font-weight="normal" fill="#c8108a" textLength="135.53" lengthAdjust="spacingAndGlyphs" stroke="#c8108a" stroke-width="0.4">OVULATION</text>
<text x="607.18" y="73.3" font-size="24.35" font-weight="normal" fill="#7b0be6" textLength="164.39" lengthAdjust="spacingAndGlyphs" stroke="#7b0be6" stroke-width="0.4">LUTEAL PHASE</text>
<path d="M96,152 V82.2 H462.1 V152" fill="none" stroke="#e41f05" stroke-width="4"/>
<path d="M91,152 L101,152 L96,165 Z" fill="#e41f05"/>
<path d="M457.3,152 L466.9,152 L462.1,165 Z" fill="#e41f05"/>
<path d="M475.9,69 V169" fill="none" stroke="#c8108a" stroke-width="4"/>
<path d="M470.7,168.5 L481.1,168.5 L475.9,181.6 Z" fill="#c8108a"/>
<path d="M489.3,152 V82.2 H830 V152" fill="none" stroke="#7b0be6" stroke-width="4"/>
<path d="M484.3,152 L494.5,152 L489.3,165 Z" fill="#7b0be6"/>
<path d="M825,152 L835,152 L830,165 Z" fill="#7b0be6"/>
<text x="47.35" y="54.0" font-size="33.62" font-weight="normal" fill="#dce7f3" textLength="157.08" lengthAdjust="spacingAndGlyphs" stroke="#fff" stroke-width="1.1">KINDARA</text>
<g fill="#d6e5f2" stroke="none">
<path d="M22.5,23.5 C20.5,30 12.5,36 12.7,47 C13,56 22,61 31,62 C24,58 17.3,53 17.2,45 C17.1,37 21.5,31 22.5,23.5 Z"/>
<path d="M31.5,24.5 C33,31 45.5,36 45.6,47 C45.6,55 38,60 32.5,61.5 C37.5,56.5 41,52 40.8,46 C40.6,38 33.5,32 31.5,24.5 Z"/>
</g>
<g stroke="#d6e5f2" fill="none">
<path d="M27,20.5 C27.5,35 28.5,48 30.5,61" stroke-width="1.6"/>
<path d="M15.6,12.2 Q21.3,18.4 27,20.5" stroke-width="0.5"/>
<path d="M18.8,8.1 Q22.9,16.3 27,20.5" stroke-width="0.5"/>
<path d="M23.9,4.6 Q25.4,14.6 27,20.5" stroke-width="0.5"/>
<path d="M29,3.7 Q28.0,14.1 27,20.5" stroke-width="0.5"/>
<path d="M33.5,4.5 Q30.2,14.5 27,20.5" stroke-width="0.5"/>
<path d="M38.3,7 Q32.6,15.8 27,20.5" stroke-width="0.5"/>
<path d="M43.6,9.8 Q35.3,17.1 27,20.5" stroke-width="0.5"/>
<path d="M46.5,13.8 Q36.8,19.1 27,20.5" stroke-width="0.5"/>
</g>
<g fill="#d6e5f2">
<circle cx="15.6" cy="12.2" r="1.3"/>
<circle cx="18.8" cy="8.1" r="1.3"/>
<circle cx="23.9" cy="4.6" r="1.3"/>
<circle cx="29" cy="3.7" r="1.3"/>
<circle cx="33.5" cy="4.5" r="1.3"/>
<circle cx="38.3" cy="7" r="1.3"/>
<circle cx="43.6" cy="9.8" r="1.3"/>
<circle cx="46.5" cy="13.8" r="1.3"/>
<ellipse cx="27" cy="20.5" rx="4" ry="1.5"/>
</g>
</svg></body></html>
